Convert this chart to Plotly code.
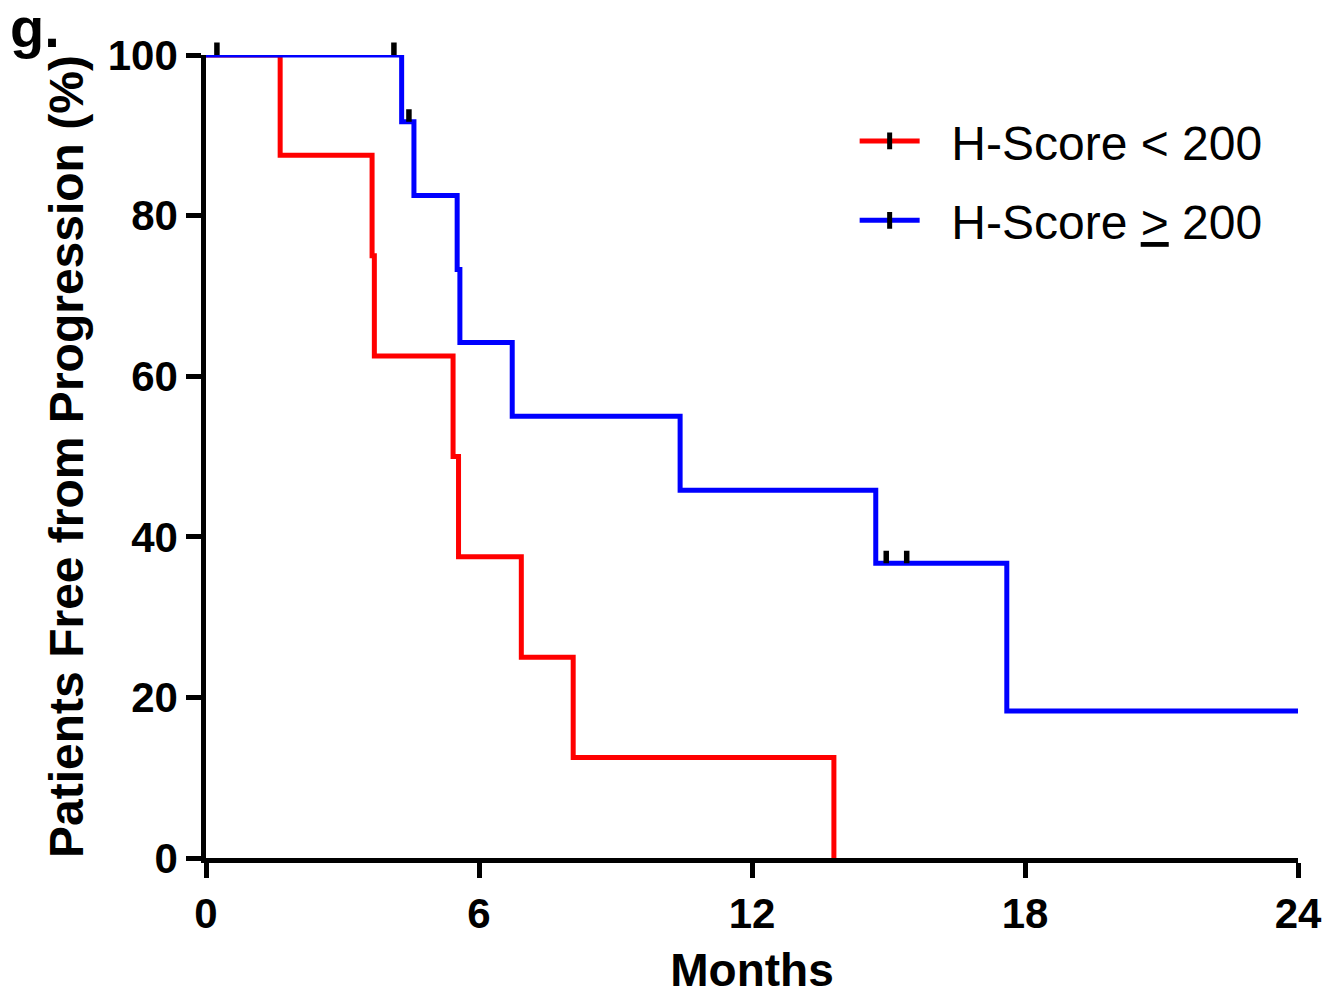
import plotly.graph_objects as go

# Kaplan-Meier step data (months, % free from progression)
red_t = [0, 1.63, 3.65, 3.70, 5.43, 5.55, 6.93, 8.07, 13.8]
red_s = [100, 87.5, 75.0, 62.5, 50.0, 37.5, 25.0, 12.5, 0]
red_cens_t = [0.24]
red_cens_s = [100]

blue_t = [0, 4.30, 4.57, 5.52, 5.58, 6.73, 10.42, 14.72, 17.6, 24]
blue_s = [100, 91.7, 82.5, 73.3, 64.2, 55.0, 45.8, 36.7, 18.3, 18.3]
blue_cens_t = [4.13, 4.46, 14.95, 15.4]
blue_cens_s = [100, 91.7, 36.7, 36.7]

x_ticks = [0, 6, 12, 18, 24]
y_ticks = [0, 20, 40, 60, 80, 100]

labels = ["\u00a0\u00a0H-Score < 200", "\u00a0\u00a0H-Score <u>></u> 200"]
colors = ["#FF0000", "#0000FF"]

FONT = "Liberation Sans, Arial, sans-serif"
fig = go.Figure()

for t, s, c in [(red_t, red_s, colors[0]), (blue_t, blue_s, colors[1])]:
    fig.add_trace(go.Scatter(x=t, y=s, mode="lines", line=dict(color=c, width=5, shape="hv"),
                             showlegend=False, cliponaxis=False, hoverinfo="skip"))

# censor ticks: short vertical strokes rising from the curve (arrow-less annotations)
annotations = []
for ct, cs in [(red_cens_t, red_cens_s), (blue_cens_t, blue_cens_s)]:
    for t, s in zip(ct, cs):
        annotations.append(dict(x=t, y=s, xref="x", yref="y", text="", showarrow=True,
                                arrowhead=0, arrowwidth=5.5, arrowcolor="black",
                                ax=0, ay=-14, standoff=0, startstandoff=0))

for i, (lab, c) in enumerate(zip(labels, colors)):
    fig.add_trace(go.Scatter(x=[None], y=[None], mode="lines+markers", name=lab,
                             legendgroup=f"g{i}",
                             line=dict(color=c, width=5),
                             marker=dict(symbol="line-ns", size=12, color="black",
                                         line=dict(color="black", width=5))))

annotations.append(dict(text="<b>g.</b>", x=0, y=1, xref="paper", yref="paper", xanchor="left",
                        yanchor="top", showarrow=False,
                        font=dict(family=FONT, size=56, color="black"),
                        xshift=-198, yshift=47 + 14))

axis_common = dict(showline=True, linecolor="black", linewidth=4.5, ticks="outside",
                   ticklen=15, tickwidth=4.5, tickcolor="black", showgrid=False, zeroline=False,
                   automargin=False,
                   tickfont=dict(family=FONT, size=42, color="black", weight="bold"))

fig.update_layout(
    width=1331, height=988,
    margin=dict(l=198, r=41, t=47, b=138, autoexpand=False),
    paper_bgcolor="white", plot_bgcolor="white",
    xaxis=dict(range=[0, 24], tickvals=x_ticks, ticktext=[str(v) for v in x_ticks],
               title=dict(text="Months", font=dict(family=FONT, size=46, color="black", weight="bold"),
                          standoff=24),
               **axis_common),
    yaxis=dict(range=[0, 100], tickvals=y_ticks, ticktext=[str(v) for v in y_ticks],
               title=dict(text="Patients Free from Progression (%)",
                          font=dict(family=FONT, size=48, color="black", weight="bold"), standoff=10),
               **axis_common),
    legend=dict(x=0.594, y=0.94, xanchor="left", yanchor="top", bgcolor="rgba(0,0,0,0)",
                font=dict(family=FONT, size=48, color="black"), itemwidth=60,
                tracegroupgap=14),
    annotations=annotations,
)

fig.write_html("out.html")
